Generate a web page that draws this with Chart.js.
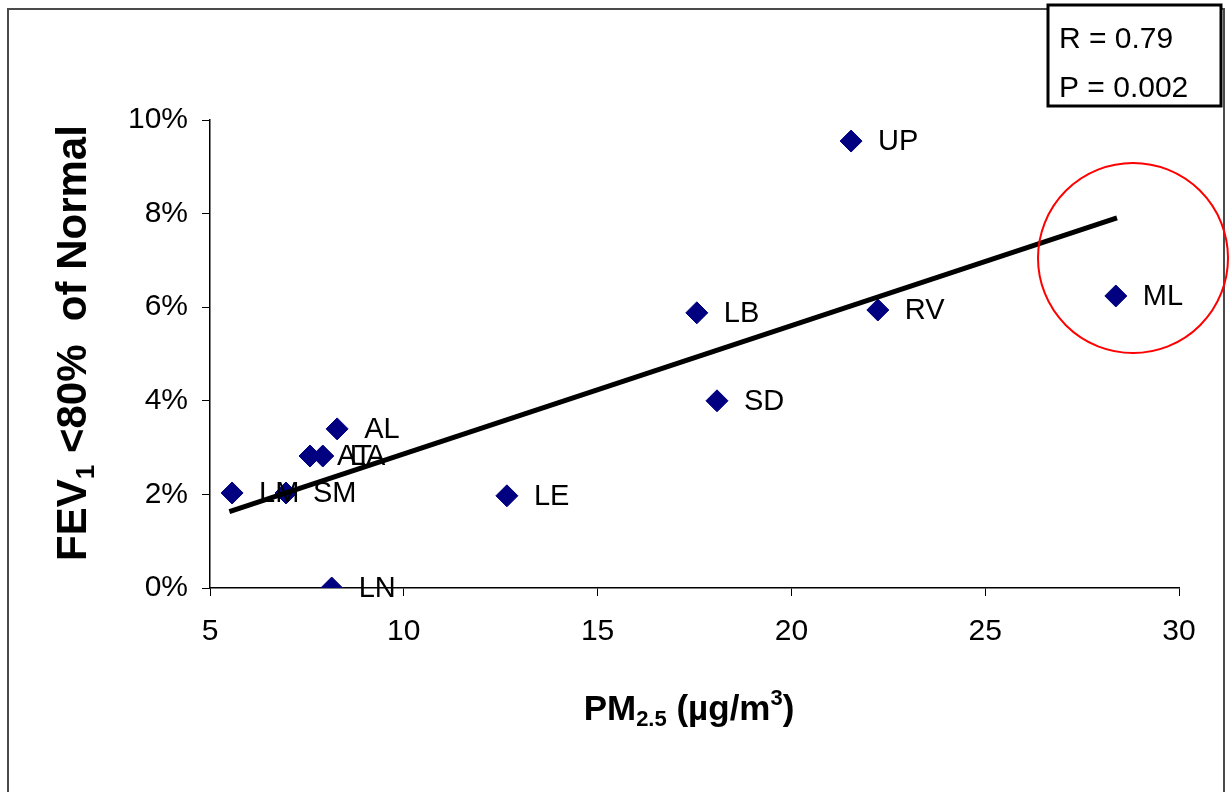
<!DOCTYPE html>
<html>
<head>
<meta charset="utf-8">
<script src="https://cdn.jsdelivr.net/npm/chart.js@4.4.1/dist/chart.umd.min.js"></script>
<style>
  html, body { margin: 0; padding: 0; background: #fff; }
  canvas { display: block; }
</style>
</head>
<body>
<canvas id="fevChart" width="1231" height="792"></canvas>
<script>
// site codes, PM2.5 (ug/m3) and % of children with FEV1 < 80% predicted
const sites = ["LM", "SM", "AT", "LA", "LN", "AL", "LE", "LB", "SD", "UP", "RV", "ML"];
const pm25 = [5.57, 6.96, 7.58, 7.91, 8.14, 8.28, 12.66, 17.56, 18.08, 21.54, 22.23, 28.37];
const fevLow = [2.03, 2.03, 2.82, 2.82, 0.0, 3.40, 1.97, 5.88, 4.00, 9.55, 5.94, 6.24];

// fitted line at its two ends
const trendX = [5.5, 28.4];
const trendY = [1.63, 7.91];

const xTicks = [5, 10, 15, 20, 25, 30];
const yTicks = [0, 2, 4, 6, 8, 10];
const statLines = ["R = 0.79", "P = 0.002"];

const FONT = "'Liberation Sans', Arial, sans-serif";

// draws a run of [text, kind] pieces; kind: "n" normal, "sub", "sup"
function drawRich(ctx, parts, size, bold, x, y) {
    const weight = bold ? "bold " : "";
    let cx = x;
    parts.forEach(([txt, kind]) => {
        const s = kind === "n" ? size : Math.round(size * 0.62);
        ctx.font = `${weight}${s}px ${FONT}`;
        let dy = 0;
        if (kind === "sub") dy = size * 0.18;
        if (kind === "sup") dy = -size * 0.42;
        ctx.fillText(txt, cx, y + dy);
        cx += ctx.measureText(txt).width;
    });
    return cx - x;
}

function richWidth(ctx, parts, size, bold) {
    const weight = bold ? "bold " : "";
    let w = 0;
    parts.forEach(([txt, kind]) => {
        const s = kind === "n" ? size : Math.round(size * 0.62);
        ctx.font = `${weight}${s}px ${FONT}`;
        w += ctx.measureText(txt).width;
    });
    return w;
}

const pointLabels = {
    id: "pointLabels",
    afterDatasetsDraw(chart) {
        const ctx = chart.ctx;
        const meta = chart.getDatasetMeta(1);
        ctx.save();
        ctx.fillStyle = "#000";
        ctx.font = `29px ${FONT}`;
        ctx.textBaseline = "middle";
        ctx.textAlign = "left";
        meta.data.forEach((pt, i) => {
            ctx.fillText(sites[i], pt.x + 27, pt.y + 1);
        });
        ctx.restore();
    },
};

const decorations = {
    id: "decorations",
    afterDraw(chart) {
        const ctx = chart.ctx;
        ctx.save();

        // outer frame
        ctx.strokeStyle = "#4a4a4a";
        ctx.lineWidth = 2;
        ctx.beginPath();
        ctx.moveTo(8, 800);
        ctx.lineTo(8, 9);
        ctx.lineTo(1224, 9);
        ctx.lineTo(1224, 800);
        ctx.stroke();

        // axis titles
        ctx.fillStyle = "#000";
        ctx.textBaseline = "alphabetic";
        const xt = [["PM", "n"], ["2.5", "sub"], [" (\u00b5g/m", "n"], ["3", "sup"], [")", "n"]];
        const xw = richWidth(ctx, xt, 35, true);
        drawRich(ctx, xt, 35, true, 689 - xw / 2, 720);

        const yt = [["FEV", "n"], ["1", "sub"], [" <80%  of Normal", "n"]];
        const yw = richWidth(ctx, yt, 42, true);
        ctx.save();
        ctx.translate(86, 343);
        ctx.rotate(-Math.PI / 2);
        drawRich(ctx, yt, 42, true, -yw / 2, 0);
        ctx.restore();

        // stats box
        ctx.fillStyle = "#fff";
        ctx.fillRect(1047, 5, 175, 101);
        ctx.strokeStyle = "#000";
        ctx.lineWidth = 3;
        ctx.strokeRect(1048, 5, 173, 101);
        ctx.fillStyle = "#000";
        ctx.font = `30px ${FONT}`;
        ctx.textBaseline = "middle";
        ctx.fillText(statLines[0], 1059, 40);
        ctx.fillText(statLines[1], 1059, 89);

        // red highlight circle
        ctx.strokeStyle = "#ff0000";
        ctx.lineWidth = 2;
        ctx.beginPath();
        ctx.arc(1133, 258, 95, 0, Math.PI * 2);
        ctx.stroke();

        ctx.restore();
    },
};

const ctx = document.getElementById("fevChart").getContext("2d");
new Chart(ctx, {
    type: "scatter",
    data: {
        datasets: [
            {
                type: "line",
                label: "Trend",
                data: trendX.map((x, i) => ({ x, y: trendY[i] })),
                borderColor: "#000",
                borderWidth: 5,
                pointRadius: 0,
                fill: false,
                order: 0,
            },
            {
                label: "FEV1 <80%",
                data: pm25.map((x, i) => ({ x, y: fevLow[i] })),
                pointStyle: "rectRot",
                pointRadius: 11,
                pointHoverRadius: 11,
                backgroundColor: "#000080",
                borderColor: "#000080",
                borderWidth: 1,
                order: 1,
            },
        ],
    },
    options: {
        responsive: false,
        animation: false,
        layout: { padding: { left: 0, right: 52, top: 120, bottom: 0 } },
        plugins: { legend: { display: false }, tooltip: { enabled: false } },
        scales: {
            x: {
                type: "linear",
                min: 5,
                max: 30,
                afterFit: s => { s.height = 204; },
                afterBuildTicks: s => { s.ticks = xTicks.map(v => ({ value: v })); },
                ticks: { color: "#000", font: { family: FONT, size: 30 }, padding: 18 },
                grid: { drawOnChartArea: false, tickLength: 8, color: "#000", lineWidth: 1 },
                border: { color: "#000", width: 1.5 },
            },
            y: {
                min: 0,
                max: 10,
                afterFit: s => { s.width = 210; },
                afterBuildTicks: s => { s.ticks = yTicks.map(v => ({ value: v })); },
                ticks: { color: "#000", font: { family: FONT, size: 30 }, padding: 14, callback: v => v + "%" },
                grid: { drawOnChartArea: false, tickLength: 8, color: "#000", lineWidth: 1 },
                border: { color: "#000", width: 1.5 },
            },
        },
    },
    plugins: [pointLabels, decorations],
});
</script>
</body>
</html>
